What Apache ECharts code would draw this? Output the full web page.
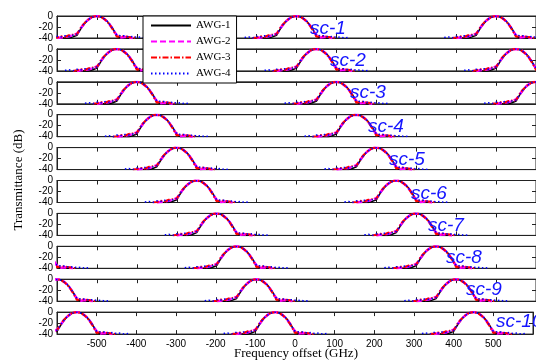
<!DOCTYPE html>
<html>
<head>
<meta charset="utf-8">
<script src="https://cdn.jsdelivr.net/npm/echarts@6/dist/echarts.min.js"></script>
<style>html,body{margin:0;padding:0;background:#fff}#c{width:536px;height:363px}</style>
</head>
<body>
<div id="c"></div>
<script>
// ---- data ----
const seriesNames = ['AWG-1', 'AWG-2', 'AWG-3', 'AWG-4'];
const panelLabels = ['sc-1','sc-2','sc-3','sc-4','sc-5','sc-6','sc-7','sc-8','sc-9','sc-10'];
// channel centre frequencies (GHz) visible in each panel
const channelCenters = [
  [-500, 0, 500],
  [-450, 50, 550],
  [-400, 100, 600],
  [-350, 150],
  [-300, 200],
  [-250, 250],
  [-200, 300],
  [-650, -150, 350],
  [-600, -100, 400],
  [-550, -50, 450]
];
// offset from channel centre (GHz)
const offsetsGHz = [-130,-120,-110,-100,-90,-80,-70,-65,-60,-55,-50,-45,-40,-35,-30,-25,-20,-15,-10,-5,0,5,10,15,20,25,30,35,40,45,50,55,60,65,70,80,90,100,110,120,130];
// measured transmittance profiles (dB)
const awg1Profile = [null,null,null,null,-40,-40,-40,-39,-38,-37,-35,-29,-23,-18,-13,-9,-6,-3.3,-1.5,-0.4,0,-0.4,-1.5,-3.2,-5.7,-9,-13,-18,-23,-30,-37,-40,-40,-39,-40,-40,null,null,null,null,null];
const awg2Profile = [null,null,null,-40,-39,-38,-37,-36,-35,-34,-32,-28,-22,-17,-12.5,-8.7,-5.6,-3,-1.3,-0.3,0,-0.5,-1.6,-3.4,-6,-9.4,-13.5,-18.5,-24,-30,-35,-38,-39,-36,-38,-39,-40,null,null,null,null];
const awg3Profile = [null,null,-40,-39,-37,-38,-35,-33,-34,-31,-33,-27,-21,-16,-12,-8.5,-5.4,-3,-1.2,-0.3,0,-0.6,-1.8,-3.6,-6.2,-9.6,-14,-19,-25,-31,-38,-40,-36,-35,-37,-38,-39,-40,null,null,null];
const awg4Profile = [-39,-38,-40,-37,-38,-36,-37,-36,-35,-36,-33,-28,-22,-17,-12.5,-8.8,-5.5,-3.1,-1.4,-0.3,0,-0.4,-1.5,-3.3,-5.9,-9.2,-13.3,-18.2,-23.6,-29.5,-35,-37,-36,-37,-36,-38,-37,-39,-38,-40,-39];
const yTickValues = [0, -20, -40];
const xTickValues = [-500,-400,-300,-200,-100,0,100,200,300,400,500];

const profiles = [awg1Profile, awg2Profile, awg3Profile, awg4Profile];
const styles = [
  {color:'#000000', width:1.5, type:'solid'},
  {color:'#ff00ff', width:2.5, type:[6,3]},
  {color:'#ff0000', width:2, type:[6,2,1.5,2]},
  {color:'#0000ff', width:1.5, type:[1.5,2.5]}
];
const labelPos = [[310,29],[330,61],[350,93],[368,127],[389,160],[411,194],[428,226],[446,258],[466,290],[496,322]];

const chart = echarts.init(document.getElementById('c'), null, {renderer:'canvas'});
const grids = [], xAxes = [], yAxes = [], series = [], graphics = [];
const N = panelLabels.length;
for (let i = 0; i < N; i++) {
  const top = 16 + 32.9 * i;
  grids.push({left:57, width:479, top:top, height:22, show:true, borderColor:'#222', borderWidth:1, backgroundColor:'#fff'});
  const last = i === N - 1;
  xAxes.push({
    type:'value', gridIndex:i, min:-600, max:600, interval:100, position:'bottom',
    axisLine:{show:true, onZero:false, lineStyle:{color:'#222', width:1}},
    axisTick:{show:true, inside:true, length:4, lineStyle:{color:'#222'}},
    axisLabel:{show:last, color:'#000', fontSize:10, fontFamily:'Liberation Sans, Arial', margin:5,
      formatter: v => xTickValues.indexOf(v) >= 0 ? String(v) : ''},
    splitLine:{show:false}
  });
  xAxes.push({
    type:'value', gridIndex:i, min:-600, max:600, interval:100, position:'top',
    axisLine:{show:true, onZero:false, lineStyle:{color:'#222', width:1}},
    axisTick:{show:true, inside:true, length:4, lineStyle:{color:'#222'}},
    axisLabel:{show:false}, splitLine:{show:false}
  });
  yAxes.push({
    type:'value', gridIndex:i, min:-40, max:0, interval:20, position:'left',
    axisLine:{show:true, onZero:false, lineStyle:{color:'#222'}},
    axisTick:{show:true, inside:true, length:4, lineStyle:{color:'#222'}},
    axisLabel:{show:true, color:'#000', fontSize:10, fontFamily:'Liberation Sans, Arial', margin:4,
      formatter: v => yTickValues.indexOf(v) >= 0 ? String(v) : ''},
    splitLine:{show:false}
  });
  yAxes.push({
    type:'value', gridIndex:i, min:-40, max:0, interval:20, position:'right',
    axisLine:{show:true, onZero:false, lineStyle:{color:'#222'}},
    axisTick:{show:true, inside:true, length:4, lineStyle:{color:'#222'}},
    axisLabel:{show:false}, splitLine:{show:false}
  });
  for (let s = 0; s < 4; s++) {
    const data = [];
    channelCenters[i].forEach((c, k) => {
      if (k > 0) data.push([null, null]);
      offsetsGHz.forEach((o, j) => {
        const v = profiles[s][j];
        data.push(v === null ? [c + o, null] : [c + o, v]);
      });
    });
    series.push({
      name: seriesNames[s], type:'line', xAxisIndex:2*i, yAxisIndex:2*i,
      data: data, showSymbol:false, symbol:'none', connectNulls:false, clip:true,
      animation:false, z: 2 + s,
      lineStyle:{color:styles[s].color, width:styles[s].width, type:styles[s].type},
      itemStyle:{color:styles[s].color}
    });
  }
  graphics.push({type:'text', x:labelPos[i][0], y:labelPos[i][1], z:50,
    style:{text:panelLabels[i], fill:'#1414ff', font:'italic 19px "Liberation Sans", Arial', align:'left', verticalAlign:'middle'}});
}
graphics.push({type:'text', x:19, y:180, rotation:Math.PI/2, z:50,
  style:{text:'Transmittance (dB)', fill:'#000', font:'13px "Liberation Serif", "Times New Roman"', align:'center', verticalAlign:'middle'}});
graphics.push({type:'text', x:296, y:354, z:50,
  style:{text:'Frequency offset (GHz)', fill:'#000', font:'13px "Liberation Serif", "Times New Roman"', align:'center', verticalAlign:'middle'}});

chart.setOption({
  animation:false,
  backgroundColor:'#fff',
  grid:grids, xAxis:xAxes, yAxis:yAxes, series:series, graphic:graphics,
  legend:{
    data:seriesNames, orient:'vertical', left:143, top:16, z:20,
    itemWidth:40, itemHeight:10, itemGap:5, padding:[4,6,4,7],
    itemStyle:{opacity:0},
    lineStyle:{inactiveWidth:0},
    backgroundColor:'#fff', borderColor:'#000', borderWidth:1, borderRadius:0,
    textStyle:{fontFamily:'Liberation Serif, Times New Roman', fontSize:11, color:'#000', lineHeight:11},
    selectedMode:false
  }
});
</script>
</body>
</html>
